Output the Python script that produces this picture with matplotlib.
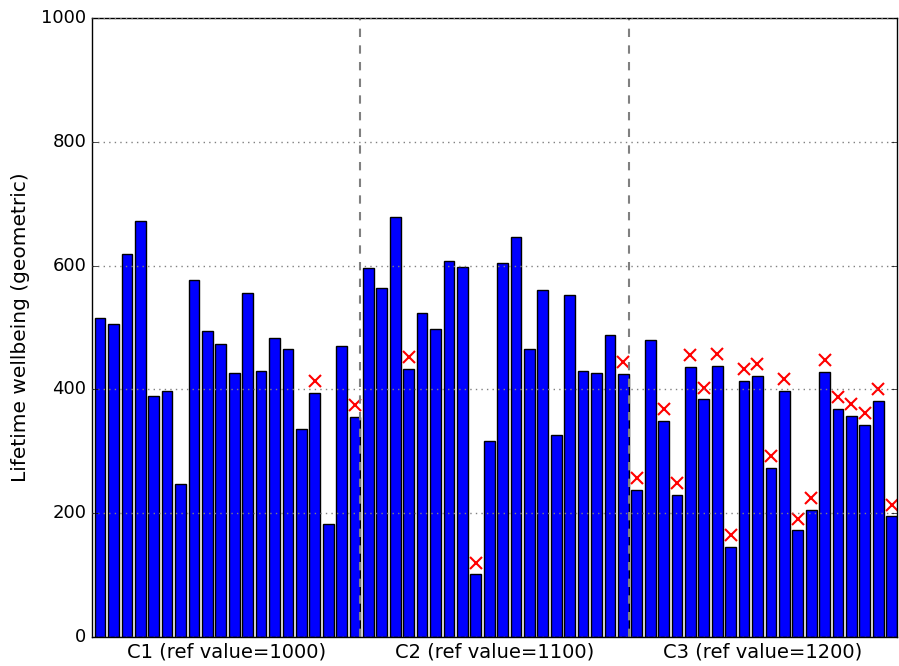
import numpy as np
import matplotlib
matplotlib.use('Agg')
import matplotlib.pyplot as plt

plt.style.use('classic')

# Valores (3 grupos de 20 simulaciones)
grupo_c1 = [515, 506, 619, 672, 389, 398, 247, 576, 494, 473,
            426, 555, 430, 483, 466, 336, 394, 183, 470, 355]
grupo_c2 = [596, 564, 678, 433, 523, 498, 608, 598, 101, 317,
            605, 646, 466, 561, 326, 552, 430, 426, 488, 425]
grupo_c3 = [238, 480, 349, 230, 436, 384, 438, 145, 414, 421,
            273, 398, 173, 205, 428, 369, 357, 343, 382, 195]

# Marcas (x rojas); nan donde no hay marca
marcas_c1 = [np.nan] * 16 + [414, np.nan, np.nan, 374]
marcas_c2 = [np.nan, np.nan, np.nan, 452, np.nan, np.nan, np.nan, np.nan, 120, np.nan,
             np.nan, np.nan, np.nan, np.nan, np.nan, np.nan, np.nan, np.nan, np.nan, 445]
marcas_c3 = [257, np.nan, 368, 249, 455, 403, 457, 165, 433, 441,
             292, 417, 191, 224, 447, 388, 376, 362, 401, 214]

etiquetas = ['C1 (ref value=1000)', 'C2 (ref value=1100)', 'C3 (ref value=1200)']

valores = np.array(grupo_c1 + grupo_c2 + grupo_c3, dtype=float)
marcas = np.array(marcas_c1 + marcas_c2 + marcas_c3, dtype=float)
n = len(valores)
x = np.arange(n)

fig = plt.figure(figsize=(8.99, 6.66), dpi=100)
ax = fig.add_axes([92 / 899, 29 / 666, 805 / 899, 619 / 666])

ax.bar(x, valores, width=0.8, align='edge', color='b', edgecolor='k', linewidth=1)
ax.plot(x + 0.4, marcas, 'x', color='r', markersize=8, markeredgewidth=1.5)

# Separadores entre grupos
for k in (1, 2):
    ax.axvline(20 * k - 0.2, color='gray', linestyle='--', linewidth=1.5, dashes=(6, 6))

ax.set_xlim(-0.2, n - 0.2)
ax.set_ylim(0, 1000)
ax.set_yticks([0, 200, 400, 600, 800, 1000])
ax.set_xticks([9.8, 29.8, 49.8])
ax.set_xticklabels(etiquetas, fontsize=14)
ax.tick_params(axis='x', length=0, pad=4)
ax.tick_params(axis='y', labelsize=13)
ax.yaxis.grid(True, color='gray', linestyle=':', linewidth=1)
ax.set_axisbelow(False)
ax.set_ylabel('Lifetime wellbeing (geometric)', fontsize=14.5, labelpad=8)

fig.savefig('out.png', dpi=100)
